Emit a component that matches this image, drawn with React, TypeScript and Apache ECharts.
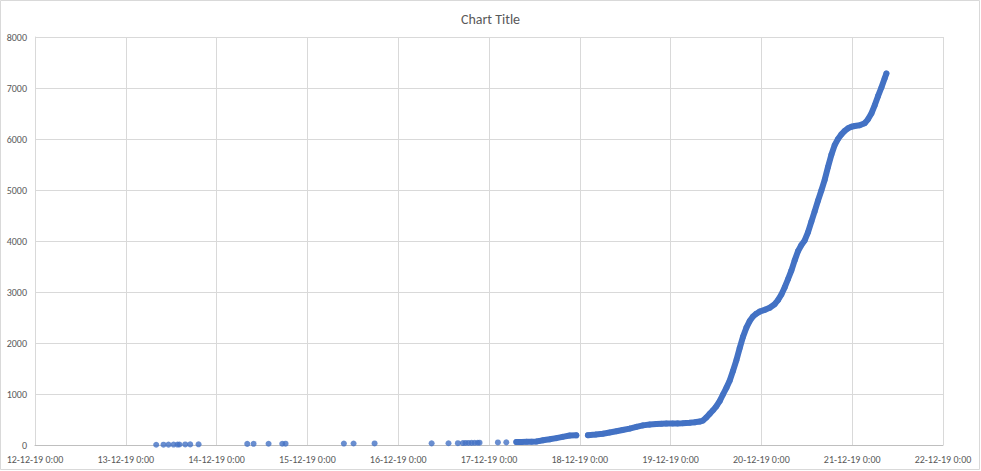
import React, { useEffect, useRef } from "react";
import * as echarts from "echarts";

const hoursSinceStart = [
  32.04, 33.97, 35.29, 36.62, 37.67, 38.2, 39.71, 41.03, 43.23,
  56.1, 57.77, 61.73, 65.35, 66.23,
  81.64, 84.2, 89.76,
  104.83, 109.3, 111.78, 113.1, 113.8, 114.6, 115.4, 116.2, 117.0, 117.5,
  122.35, 124.57,
  127.22, 128.62, 129.94, 131.26, 132.51, 133.38, 134.25, 136.02, 137.79, 139.46, 141.31, 143.08,
  146.15, 148.18, 150.11, 151.89, 153.66, 155.32, 157.17, 158.95, 160.69, 162.46, 164.23, 165.55,
  166.88, 168.54, 169.86, 171.19, 173.04, 174.36, 175.68, 176.55, 177.45, 178.32, 179.2, 180.1,
  180.97, 181.84, 182.74, 183.61, 184.48, 185.38, 186.26, 187.13, 188.03, 188.9, 189.77, 190.67,
  191.54, 192.87, 194.19, 195.51, 196.38, 197.28, 198.15, 199.02, 199.92, 200.8, 201.67, 202.57,
  203.44, 204.31, 205.21, 206.08, 206.96, 207.85, 208.73, 209.6, 210.5, 211.37, 212.24, 213.14,
  214.02, 214.89, 215.79, 216.66, 217.98, 219.3, 220.17, 221.07, 221.95, 222.82, 223.72, 224.59, 225.04,
];

// Cumulative count at each observation
const readings = [
  5, 6, 7, 8, 9, 10, 11, 12, 13,
  22, 23, 24, 25, 26,
  28, 29, 30,
  32, 34, 36, 38, 40, 41, 42, 43, 44, 45,
  50, 52,
  58, 60, 62, 65, 68, 80, 92, 112, 135, 160, 185, 190,
  192, 205, 222, 245, 270, 295, 322, 355, 385, 400, 410, 415,
  420, 422, 424, 426, 435, 445, 460, 480, 540, 610, 680, 760,
  860, 990, 1120, 1260, 1450, 1660, 1900, 2120, 2300, 2430, 2520, 2575,
  2615, 2650, 2690, 2760, 2840, 2950, 3090, 3250, 3420, 3620, 3800, 3920,
  4010, 4170, 4380, 4580, 4790, 4990, 5200, 5450, 5690, 5880, 6000, 6090,
  6160, 6210, 6240, 6255, 6270, 6310, 6385, 6500, 6660, 6840, 7010, 7190, 7285,
];

const chartTitle = "Chart Title";
const seriesName = "Series1";
const yTicks = [0, 1000, 2000, 3000, 4000, 5000, 6000, 7000, 8000];

const START = Date.UTC(2019, 11, 12);
const END = Date.UTC(2019, 11, 22);
const DAY = 86400000;
const HOUR = 3600000;
const DENSE_FROM_HOUR = 127; // the recordings become continuous from here
const GAP_HOURS = 2.5;

const pad = (n: number) => (n < 10 ? "0" + n : "" + n);
const fmt = (v: number) => {
  const d = new Date(v);
  return `${pad(d.getUTCDate())}-${pad(d.getUTCMonth() + 1)}-${pad(d.getUTCFullYear() % 100)} ${d.getUTCHours()}:${pad(d.getUTCMinutes())}`;
};

export default function App() {
  const ref = useRef<HTMLDivElement>(null);

  useEffect(() => {
    if (!ref.current) return;
    const chart = echarts.init(ref.current, undefined, { renderer: "svg" });

    const points = hoursSinceStart.map((h, i) => [START + h * HOUR, readings[i]]);
    const linePts: any[] = [];
    let prevH = -Infinity;
    hoursSinceStart.forEach((h, i) => {
      if (h < DENSE_FROM_HOUR) return;
      if (h - prevH > GAP_HOURS && linePts.length) linePts.push(["-", "-"]);
      linePts.push(points[i]);
      prevH = h;
    });

    const font = "Calibri, Carlito, Lato, 'Liberation Sans', sans-serif";
    const blue = "#4472C4";

    chart.setOption({
      animation: false,
      backgroundColor: "#ffffff",
      title: {
        text: chartTitle,
        left: "center",
        top: 7,
        textStyle: { fontSize: 14, fontWeight: "normal", color: "#595959", fontFamily: font },
      },
      grid: { left: 35, right: 38, top: 37, bottom: 26 },
      xAxis: {
        type: "value",
        min: START,
        max: END,
        interval: DAY,
        axisLine: { show: true, lineStyle: { color: "#bfbfbf", width: 1 } },
        axisTick: { show: false },
        splitLine: { show: true, lineStyle: { color: "#d9d9d9", width: 1 } },
        axisLabel: {
          formatter: (v: number) => fmt(v),
          color: "#595959",
          fontSize: 10,
          fontFamily: font,
          margin: 9,
          showMaxLabel: true,
          showMinLabel: true,
        },
      },
      yAxis: {
        type: "value",
        min: yTicks[0],
        max: yTicks[yTicks.length - 1],
        interval: yTicks[1] - yTicks[0],
        axisLine: { show: true, lineStyle: { color: "#d9d9d9", width: 1 } },
        axisTick: { show: false },
        splitLine: { show: true, lineStyle: { color: "#d9d9d9", width: 1 } },
        axisLabel: {
          formatter: (v: number) => String(v),
          color: "#595959",
          fontSize: 10,
          fontFamily: font,
          margin: 8,
        },
      },
      graphic: [
        {
          type: "rect",
          shape: { x: 0.5, y: 0.5, width: 979, height: 469 },
          style: { fill: "none", stroke: "#d9d9d9", lineWidth: 1 },
          silent: true,
          z: 100,
        },
      ],
      series: [
        {
          name: seriesName,
          type: "line",
          data: linePts,
          showSymbol: false,
          symbol: "none",
          connectNulls: false,
          lineStyle: { color: blue, width: 6, cap: "round", join: "round" },
          z: 2,
          silent: true,
        },
        {
          name: seriesName,
          type: "scatter",
          data: points,
          symbol: "circle",
          symbolSize: 6,
          itemStyle: { color: blue },
          z: 3,
        },
      ],
    });

    return () => chart.dispose();
  }, []);

  return (
    <div
      ref={ref}
      style={{ position: "absolute", left: 0, top: 0, width: 981, height: 471 }}
    />
  );
}
